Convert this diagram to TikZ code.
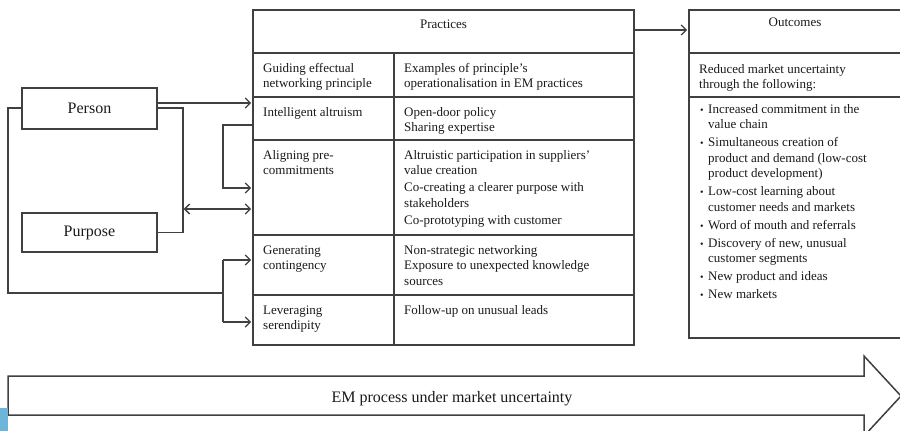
\documentclass[tikz,border=0pt]{standalone}
\usepackage{fontspec}
\setmainfont{Liberation Serif}
\usetikzlibrary{arrows.meta}
\definecolor{ln}{HTML}{404040}
\definecolor{tx}{HTML}{1A1A1A}
\definecolor{blu}{HTML}{6DB6D9}
\newcommand{\cf}{\fontsize{13}{15.5}\selectfont}
\newcommand{\bul}{\makebox[8pt][l]{\fontsize{10}{10}\selectfont •}}
\newcommand{\ind}{\hspace*{8pt}}
\begin{document}
\begin{tikzpicture}[x=1pt,y=-1pt,
  frame/.style={draw=ln, line width=1.8pt},
  boxnode/.style={draw=ln, line width=2pt, minimum width=135pt, minimum height=41pt, inner sep=0pt, font=\fontsize{16}{19}\selectfont, text=tx},
  conn/.style={draw=ln, line width=1.3pt},
  tipb/.tip={Straight Barb[length=5pt,width=10pt,line width=1.3pt]},
  arr/.style={conn, -tipb, shorten >=1pt},
  cell/.style={anchor=north west, inner sep=0pt, align=left, font=\cf, text=tx},
  head/.style={anchor=base, inner sep=0pt, font=\cf, text=tx},
]
\useasboundingbox (0,0) rectangle (900,431);
\fill[white] (0,0) rectangle (900,431);

% Person / Purpose
\node[boxnode] (person) at (89.5,108) {Person};
\node[boxnode, minimum height=39pt] (purpose) at (89.5,232.5) {Purpose};

% Practices table
\node[frame, minimum width=381pt, minimum height=335pt, inner sep=0pt] (prac) at (443.5,177.5) {};
\node[head] (practitle) at (443.5,28) {Practices};
\foreach \yy in {53,97,140,235,295}
  \draw[frame] (prac.west |- 0,\yy) -- (prac.east |- 0,\yy);
\draw[frame] (394,53) -- (394,345);

\node[cell] (c11) at (263,61.15) {\strut Guiding effectual\\networking principle};
\node[cell] (c12) at (404,61.15) {\strut Examples of principle’s\\operationalisation in EM practices};
\node[cell] (c21) at (263,105.15) {\strut Intelligent altruism};
\node[cell] (c22) at (404,105.15) {\strut Open-door policy\\Sharing expertise};
\node[cell] (c31) at (263,148.15) {\strut Aligning pre-\\commitments};
\node[cell] (c32) at (404,148.15) {\strut Altruistic participation in suppliers’\\value creation\\[1.5pt]Co-creating a clearer purpose with\\stakeholders\\[1.5pt]Co-prototyping with customer};
\node[cell] (c41) at (263,243.15) {\strut Generating\\contingency};
\node[cell] (c42) at (404,243.15) {\strut Non-strategic networking\\Exposure to unexpected knowledge\\sources};
\node[cell] (c51) at (263,303.15) {\strut Leveraging\\serendipity};
\node[cell] (c52) at (404,303.15) {\strut Follow-up on unusual leads};

% Outcomes box
\begin{scope}
\clip (0,0) rectangle (900,431);
\node[frame, minimum width=213pt, minimum height=328pt, inner sep=0pt] (out) at (795.5,174) {};
\end{scope}
\node[head] (outtitle) at (795,27) {Outcomes};
\draw[frame] (out.west |- 0,53) -- (900,53);
\draw[frame] (out.west |- 0,97) -- (900,97);
\node[cell] (red) at (699,62.15) {\strut Reduced market uncertainty\\through the following:};
\node[cell] (list) at (700,102.15) {\strut\bul Increased commitment in the\\\ind value chain\\[2.5pt]
\bul Simultaneous creation of\\\ind product and demand (low-cost\\\ind product development)\\[2.5pt]
\bul Low-cost learning about\\\ind customer needs and markets\\[2.5pt]
\bul Word of mouth and referrals\\[2.5pt]
\bul Discovery of new, unusual\\\ind customer segments\\[2.5pt]
\bul New product and ideas\\[2.5pt]
\bul New markets};

% Practices -> Outcomes
\draw[arr] (prac.east |- 0,30) -- (out.west |- 0,30);

% Left connectors
\draw[arr] ([yshift=5pt]person.east) -- (prac.west |- 0,103);
\draw[conn] (person.east) -| (183,232.5) -- (purpose.east);
\draw[conn, tipb-tipb, shorten >=1pt] (183.7,209) -- (prac.west |- 0,209);
\draw[arr] (prac.west |- 0,125) -- (223,125) -- (223,188) -- (prac.west |- 0,188);
\draw[conn] (person.west) -- (8,108) -- (8,293) -- (223,293);
\draw[conn] (223,260) -- (223,322);
\draw[arr] (223,260) -- (prac.west |- 0,260);
\draw[arr] (223,322) -- (prac.west |- 0,322);

% Process arrow
\begin{scope}
\clip (0,0) rectangle (900,431);
\draw[draw=ln, line width=1.5pt, fill=white, line join=miter] (8,376) -- (864,376) -- (864,356) -- (901,396) -- (864,436) -- (864,415) -- (8,415) -- cycle;
\end{scope}
\node[anchor=base, inner sep=0pt, font=\fontsize{16}{19}\selectfont, text=tx] (em) at (452,402) {EM process under market uncertainty};
\fill[blu] (0,408) rectangle (8,431);
\end{tikzpicture}
\end{document}
